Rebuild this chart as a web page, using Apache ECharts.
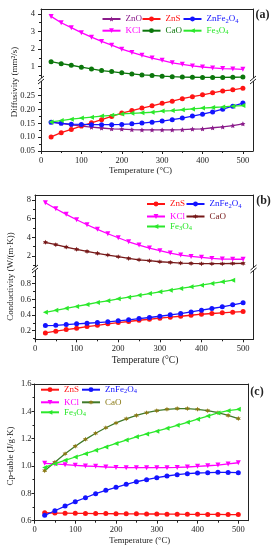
<!DOCTYPE html>
<html><head><meta charset="utf-8">
<script src="https://cdn.jsdelivr.net/npm/echarts@6/dist/echarts.min.js"></script>
<style>html,body{margin:0;padding:0;background:#fff}#c{width:278px;height:550px}</style>
</head><body><div id="c"></div>
<script>
// ---------- data ----------
const T = [25,50,75,100,125,150,175,200,225,250,275,300,325,350,375,400,425,450,475,500];
const T19 = [25,50,75,100,125,150,175,200,225,250,275,300,325,350,375,400,425,450,475];
const X_TICKS = [0,100,200,300,400,500];
const X_MINOR = [50,150,250,350,450];

// (a) diffusivity, mm2/s
const a_KCl = [3.85,3.49,3.21,2.93,2.67,2.43,2.22,1.99,1.81,1.64,1.49,1.36,1.22,1.13,1.04,0.98,0.93,0.89,0.87,0.85];
const a_CaO = [1.28,1.17,1.08,0.97,0.87,0.78,0.72,0.65,0.59,0.53,0.50,0.46,0.43,0.41,0.40,0.39,0.39,0.39,0.40,0.41];
const a_ZnO = [0.154,0.150,0.144,0.140,0.136,0.133,0.130,0.129,0.127,0.126,0.126,0.126,0.126,0.127,0.129,0.130,0.134,0.137,0.142,0.148];
const a_ZnS = [0.101,0.116,0.128,0.140,0.152,0.163,0.175,0.187,0.196,0.205,0.213,0.222,0.230,0.239,0.246,0.253,0.260,0.267,0.271,0.277];
const a_ZnFe2O4 = [0.154,0.150,0.147,0.146,0.145,0.145,0.145,0.146,0.148,0.151,0.154,0.158,0.163,0.169,0.176,0.183,0.191,0.201,0.212,0.223];
const a_Fe3O4 = [0.155,0.160,0.165,0.169,0.172,0.176,0.179,0.184,0.186,0.188,0.190,0.194,0.196,0.199,0.202,0.205,0.207,0.209,0.212,0.214];
const a_upperTicks = [1,2,3,4];
const a_upperMinor = [0.5,1.5,2.5,3.5];
const a_lowerTicks = [0.05,0.10,0.15,0.20,0.25];
const a_lowerMinor = [0.075,0.125,0.175,0.225,0.275];

// (b) conductivity, W/(m K)
const b_KCl = [7.71,7.07,6.47,5.89,5.35,4.86,4.39,3.96,3.53,3.18,2.86,2.57,2.32,2.11,1.96,1.86,1.75,1.68,1.66,1.66];
const b_CaO = [3.47,3.22,2.96,2.72,2.50,2.29,2.11,1.93,1.75,1.60,1.50,1.39,1.32,1.25,1.21,1.18,1.18,1.18,1.20,1.21];
const b_ZnS = [0.172,0.193,0.214,0.231,0.253,0.269,0.287,0.304,0.317,0.333,0.346,0.359,0.372,0.384,0.397,0.410,0.419,0.428,0.436,0.444];
const b_ZnFe2O4 = [0.265,0.269,0.278,0.287,0.295,0.304,0.313,0.326,0.338,0.355,0.368,0.384,0.402,0.419,0.440,0.461,0.483,0.505,0.530,0.556];
const b_Fe3O4 = [0.435,0.460,0.486,0.510,0.534,0.560,0.581,0.606,0.627,0.652,0.674,0.696,0.717,0.739,0.760,0.781,0.803,0.824,0.845];
const b_upperTicks = [2,4,6,8];
const b_upperMinor = [1,3,5,7];
const b_lowerTicks = [0.2,0.4,0.6,0.8];
const b_lowerMinor = [0.1,0.3,0.5,0.7,0.9];

// (c) heat capacity, J/(g K)
const c_ZnS = [0.658,0.656,0.655,0.654,0.653,0.652,0.652,0.651,0.650,0.650,0.649,0.649,0.648,0.648,0.647,0.647,0.646,0.646,0.645,0.645];
const c_ZnFe2O4 = [0.639,0.673,0.707,0.739,0.768,0.798,0.822,0.844,0.866,0.885,0.900,0.915,0.927,0.937,0.944,0.949,0.951,0.954,0.953,0.951];
const c_KCl = [1.020,1.015,1.010,1.005,1.000,0.998,0.993,0.990,0.988,0.988,0.988,0.988,0.988,0.990,0.993,0.998,1.002,1.007,1.015,1.024];
const c_CaO = [0.966,1.027,1.090,1.145,1.195,1.240,1.280,1.315,1.345,1.370,1.390,1.405,1.415,1.420,1.420,1.415,1.405,1.390,1.370,1.347];
const c_Fe3O4 = [0.990,1.017,1.042,1.066,1.090,1.115,1.140,1.165,1.190,1.214,1.235,1.255,1.276,1.298,1.320,1.343,1.365,1.388,1.405,1.415];
const c_ticks = [0.6,0.8,1.0,1.2,1.4,1.6];
const c_minor = [0.7,0.9,1.1,1.3,1.5];

// ---------- style ----------
const FF = 'Liberation Serif';
const AX = '#222';
const C = {ZnO:'#8B1C8B', ZnS:'#FF1414', ZnFe2O4:'#1414FF', KCl:'#FF00FF', Fe3O4:'#2BE82B',
           CaOa:'#0B760B', CaOb:'#761818', CaOc:'#8A7A16', CaOcLine:'#3F7A2A'};
const STAR5 = 'path://M0,-10L2.9,-4L9.5,-3.1L4.7,1.5L5.9,8.1L0,5L-5.9,8.1L-4.7,1.5L-9.5,-3.1L-2.9,-4Z';
const STAR6 = 'path://M0,-10L2.5,-4.3L8.7,-5L5,0L8.7,5L2.5,4.3L0,10L-2.5,4.3L-8.7,5L-5,0L-8.7,-5L-2.5,-4.3Z';

const grids = [], xAxes = [], yAxes = [], series = [], legends = [], graphics = [];

function addGrid(left, top, width, height) {
  grids.push({left, top, width, height});
  return grids.length - 1;
}
function lineAx(show){ return {show, onZero:false, lineStyle:{color:AX, width:1}}; }

function addX(g, kind, margin) {
  const base = {type:'value', gridIndex:g, min:0, max:525, splitLine:{show:false}};
  if (kind === 'top') {
    xAxes.push(Object.assign({}, base, {position:'top', axisLine:lineAx(true), axisTick:{show:false}, axisLabel:{show:false}}));
    return xAxes.length - 1;
  }
  xAxes.push(Object.assign({}, base, {position:'bottom', axisLine:lineAx(true),
    axisTick:{show:true, length:3, customValues:X_TICKS, lineStyle:{color:AX}},
    axisLabel:{customValues:X_TICKS, margin, fontFamily:FF, fontSize:8.5, color:AX}}));
  const idx = xAxes.length - 1;
  xAxes.push(Object.assign({}, base, {position:'bottom', axisLine:lineAx(false),
    axisTick:{show:true, length:2, customValues:X_MINOR, lineStyle:{color:AX}}, axisLabel:{show:false}}));
  return idx;
}
function addY(g, min, max, ticks, minor, dec, margin) {
  const base = {type:'value', gridIndex:g, min, max, splitLine:{show:false}};
  yAxes.push(Object.assign({}, base, {position:'left', axisLine:lineAx(true),
    axisTick:{show:true, length:3, customValues:ticks, lineStyle:{color:AX}},
    axisLabel:{customValues:ticks, margin, fontFamily:FF, fontSize:8.5, color:AX, formatter:v=>Number(v).toFixed(dec)}}));
  const idx = yAxes.length - 1;
  yAxes.push(Object.assign({}, base, {position:'left', axisLine:lineAx(false),
    axisTick:{show:true, length:2, customValues:minor, lineStyle:{color:AX}}, axisLabel:{show:false}}));
  yAxes.push(Object.assign({}, base, {position:'right', axisLine:lineAx(true), axisTick:{show:false}, axisLabel:{show:false}}));
  return idx;
}
function addLine(name, xi, yi, xs, ys, color, symbol, rot, lineColor) {
  series.push({type:'line', name, xAxisIndex:xi, yAxisIndex:yi,
    data: xs.map((x, i) => [x, ys[i]]), symbol, symbolSize:5, symbolRotate:rot || 0,
    itemStyle:{color}, lineStyle:{color:lineColor || color, width:1.3}, animation:false});
}
function addLegend(name, text, color, left, cy) {
  legends.push({data:[name], left, top:cy - 5.5, padding:0, itemGap:0, itemWidth:18, itemHeight:6,
    selectedMode:false, formatter:() => text,
    textStyle:{fontFamily:FF, fontSize:9, color, rich:{sub:{fontFamily:FF, fontSize:6.5, color, padding:[4,0,0,0]}}}});
}
function addText(text, x, y, size, rot, weight) {
  graphics.push({type:'text', x, y, rotation:rot || 0, z:50,
    style:{text, fill:AX, font:(weight ? weight + ' ' : '') + size + 'px "' + FF + '"', textAlign:'center', textVerticalAlign:'middle'}});
}
function addBreak(x, y) {
  graphics.push({type:'rect', z:60, shape:{x:x - 1.8, y:y - 1, width:3.6, height:3}, style:{fill:'#fff'}});
  graphics.push({type:'line', z:61, shape:{x1:x - 3, y1:y + 2, x2:x + 3, y2:y - 3}, style:{stroke:AX, lineWidth:1}});
  graphics.push({type:'line', z:61, shape:{x1:x - 3, y1:y + 5, x2:x + 3, y2:y}, style:{stroke:AX, lineWidth:1}});
}

// ---------- panel (a) ----------
const gaT = addGrid(41, 9, 212, 70);
const gaB = addGrid(41, 79, 212, 72);
const xaT = addX(gaT, 'top');
const xaB = addX(gaB, 'bottom', 5);
const yaT = addY(gaT, 0.3, 4.27, a_upperTicks, a_upperMinor, 0, 6);
const yaB = addY(gaB, 0.05, 0.31, a_lowerTicks, a_lowerMinor, 2, 6);
addLine('aKCl', xaT, yaT, T, a_KCl, C.KCl, 'triangle', 180);
addLine('aCaO', xaT, yaT, T, a_CaO, C.CaOa, 'circle');
addLine('aZnO', xaB, yaB, T, a_ZnO, C.ZnO, STAR5);
addLine('aZnS', xaB, yaB, T, a_ZnS, C.ZnS, 'circle');
addLine('aZnFe2O4', xaB, yaB, T, a_ZnFe2O4, C.ZnFe2O4, 'circle');
addLine('aFe3O4', xaB, yaB, T, a_Fe3O4, C.Fe3O4, 'triangle', 90);
addLegend('aZnO', 'ZnO', C.ZnO, 101.5, 20);
addLegend('aZnS', 'ZnS', C.ZnS, 141.5, 20);
addLegend('aZnFe2O4', 'ZnFe{sub|2}O{sub|4}', C.ZnFe2O4, 182.5, 20);
addLegend('aKCl', 'KCl', C.KCl, 101.5, 31.7);
addLegend('aCaO', 'CaO', C.CaOa, 141.5, 31.7);
addLegend('aFe3O4', 'Fe{sub|3}O{sub|4}', C.Fe3O4, 182.5, 31.7);
addBreak(41, 79); addBreak(253, 79);
addText('Diffusivity (mm²/s)', 15, 82, 9, Math.PI / 2);
addText('Temperature (°C)', 140.5, 170.7, 9);
addText('(a)', 262.5, 15, 12, 0, 'bold');

// ---------- panel (b) ----------
const gbT = addGrid(35, 195, 218.5, 73);
const gbB = addGrid(35, 268, 218.5, 71.3);
const xbT = addX(gbT, 'top');
const xbB = addX(gbB, 'bottom', 5);
const ybT = addY(gbT, 0.72, 8.54, b_upperTicks, b_upperMinor, 0, 4);
const ybB = addY(gbB, 0.09, 1.0, b_lowerTicks, b_lowerMinor, 1, 4);
addLine('bKCl', xbT, ybT, T, b_KCl, C.KCl, 'triangle', 180);
addLine('bCaO', xbT, ybT, T, b_CaO, C.CaOb, STAR6);
addLine('bZnS', xbB, ybB, T, b_ZnS, C.ZnS, 'circle');
addLine('bZnFe2O4', xbB, ybB, T, b_ZnFe2O4, C.ZnFe2O4, 'circle');
addLine('bFe3O4', xbB, ybB, T19, b_Fe3O4, C.Fe3O4, 'triangle', 90);
addLegend('bZnS', 'ZnS', C.ZnS, 146, 205);
addLegend('bZnFe2O4', 'ZnFe{sub|2}O{sub|4}', C.ZnFe2O4, 185.5, 205);
addLegend('bKCl', 'KCl', C.KCl, 146, 217.5);
addLegend('bCaO', 'CaO', C.CaOb, 185.5, 217.5);
addLegend('bFe3O4', 'Fe{sub|3}O{sub|4}', C.Fe3O4, 146, 227.5);
addBreak(35, 268); addBreak(253.5, 268);
addText('Conductivity (W/(m·K))', 11, 276.5, 9, Math.PI / 2);
addText('Temperature (°C)', 145, 360, 9.5);
addText('(b)', 263.5, 201, 12, 0, 'bold');

// ---------- panel (c) ----------
const gc = addGrid(34.5, 384, 214, 136.7);
addX(gc, 'top');
const xc = addX(gc, 'bottom', 4.5);
const yc = addY(gc, 0.6, 1.6, c_ticks, c_minor, 1, 3);
addLine('cZnS', xc, yc, T, c_ZnS, C.ZnS, 'circle');
addLine('cZnFe2O4', xc, yc, T, c_ZnFe2O4, C.ZnFe2O4, 'circle');
addLine('cKCl', xc, yc, T, c_KCl, C.KCl, 'triangle', 180);
addLine('cCaO', xc, yc, T, c_CaO, C.CaOc, STAR6, 0, C.CaOcLine);
addLine('cFe3O4', xc, yc, T, c_Fe3O4, C.Fe3O4, 'triangle', 90);
addLegend('cZnS', 'ZnS', C.ZnS, 40, 390.7);
addLegend('cZnFe2O4', 'ZnFe{sub|2}O{sub|4}', C.ZnFe2O4, 81, 390.7);
addLegend('cKCl', 'KCl', C.KCl, 40, 403.3);
addLegend('cCaO', 'CaO', C.CaOc, 81, 403.3);
addLegend('cFe3O4', 'Fe{sub|3}O{sub|4}', C.Fe3O4, 40, 413.3);
addText('Cp-table (J/g·K)', 11, 456, 9, Math.PI / 2);
addText('Temperature (°C)', 139.7, 540.7, 8.7);
addText('(c)', 257, 392, 12, 0, 'bold');

const chart = echarts.init(document.getElementById('c'), null, {renderer:'canvas'});
chart.setOption({
  animation:false, backgroundColor:'#fff',
  grid:grids, xAxis:xAxes, yAxis:yAxes, series, legend:legends, graphic:{elements:graphics}
});
</script></body></html>
